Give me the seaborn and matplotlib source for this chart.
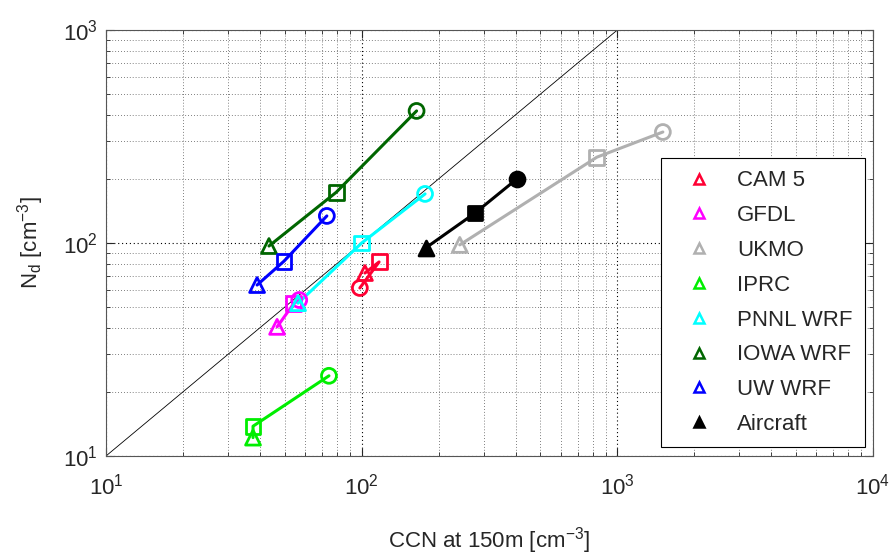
import matplotlib

matplotlib.use("Agg")
import matplotlib.pyplot as plt
from matplotlib.lines import Line2D
from matplotlib.ticker import FuncFormatter
import numpy as np
import pandas as pd
import seaborn as sns

# values (points ordered triangle, square, circle)
models = ["CAM 5", "GFDL", "UKMO", "IPRC", "PNNL WRF", "IOWA WRF", "UW WRF", "Aircraft"]
colors = ["#ff0033", "#ff00ff", "#b0b0b0", "#00ee00", "#00ffff", "#006600", "#0000ff", "#000000"]
levels = ["tri", "sq", "circ"]

ccn_cam5 = [103, 117, 98.4]
nd_cam5 = [72.3, 81.5, 61.5]
ccn_gfdl = [46.7, 54.3, 57]
nd_gfdl = [40.4, 52, 54]
ccn_ukmo = [242, 832, 1507]
nd_ukmo = [98, 253, 332]
ccn_iprc = [37.6, 37.6, 74.5]
nd_iprc = [12.2, 13.8, 23.8]
ccn_pnnl = [56.4, 100, 177]
nd_pnnl = [52.2, 100, 170]
ccn_iowa = [43.4, 79.5, 164]
nd_iowa = [96.8, 173, 417]
ccn_uw = [39.0, 49.7, 73.1]
nd_uw = [63.5, 82.2, 134]
ccn_air = [178, 277, 405]
nd_air = [94.8, 138, 200]

one_to_one = [10, 1000]

ccn_all = [ccn_cam5, ccn_gfdl, ccn_ukmo, ccn_iprc, ccn_pnnl, ccn_iowa, ccn_uw, ccn_air]
nd_all = [nd_cam5, nd_gfdl, nd_ukmo, nd_iprc, nd_pnnl, nd_iowa, nd_uw, nd_air]

rows = []
for m, xs, ys in zip(models, ccn_all, nd_all):
    for lev, x, y in zip(levels, xs, ys):
        rows.append({"model": m, "level": lev, "ccn": x, "nd": y})
df = pd.DataFrame(rows)

sns.set_style("ticks")
plt.rcParams["font.family"] = ["Liberation Sans", "DejaVu Sans"]
plt.rcParams["mathtext.fontset"] = "custom"
plt.rcParams["mathtext.rm"] = "Liberation Sans"
plt.rcParams["mathtext.it"] = "Liberation Sans"

fig = plt.figure(figsize=(8.92, 5.6), dpi=100)
ax = fig.add_axes([0.1188, 0.1857, 0.8599, 0.7607])
ax.set_xscale("log")
ax.set_yscale("log")

sns.lineplot(x=one_to_one, y=one_to_one, color="black", lw=0.6, ax=ax)

marker_map = {"tri": "^", "sq": "s", "circ": "o"}
for m, c in zip(models, colors):
    sub = df[df["model"] == m]
    sns.lineplot(data=sub, x="ccn", y="nd", sort=False, color=c, lw=2.2,
                 estimator=None, ax=ax)
    for lev in levels:
        pt = sub[sub["level"] == lev]
        sns.scatterplot(data=pt, x="ccn", y="nd", marker=marker_map[lev], s=115,
                        color=c, ax=ax, zorder=3)
        coll = ax.collections[-1]
        coll.set_edgecolor(c)
        coll.set_linewidth(2.0)
        coll.set_facecolor(c if m == "Aircraft" else "none")

ax.set_xlim(10, 1e4)
ax.set_ylim(10, 1e3)
ax.grid(True, which="major", ls=(0, (1, 2.5)), color="black", lw=0.8)
ax.grid(True, which="minor", ls=(0, (1, 2.5)), color="#555555", lw=0.6)
ax.set_axisbelow(True)

fmt = FuncFormatter(lambda v, p: "$10^{%d}$" % round(np.log10(v)))
ax.xaxis.set_major_formatter(fmt)
ax.yaxis.set_major_formatter(fmt)
ax.tick_params(which="both", direction="in", top=True, right=True, labelsize=16)
ax.tick_params(axis="x", which="major", pad=13)
ax.tick_params(axis="y", which="major", pad=6)
ax.tick_params(which="major", length=6)
ax.tick_params(which="minor", length=3)
for s in ax.spines.values():
    s.set_color("#555555")

ax.set_xlabel("CCN at 150m [cm$^{-3}$]", fontsize=16, labelpad=18)
ax.set_ylabel("N$_{\\mathrm{d}}$ [cm$^{-3}$]", fontsize=16, labelpad=12)

handles = [Line2D([], [], ls="none", marker="^", markersize=7, markeredgewidth=1.8,
                  markeredgecolor=c, markerfacecolor=(c if m == "Aircraft" else "white"))
           for m, c in zip(models, colors)]
leg = ax.legend(handles, models, loc="lower right", bbox_to_anchor=(0.989, 0.021),
                fontsize=16, frameon=True, fancybox=False, labelspacing=0.62,
                handletextpad=0.55, borderpad=0.55, handlelength=2.3,
                borderaxespad=0)
leg.get_frame().set_edgecolor("black")
leg.get_frame().set_linewidth(0.8)
leg.get_frame().set_alpha(1)

fig.savefig("out.png", dpi=100)
